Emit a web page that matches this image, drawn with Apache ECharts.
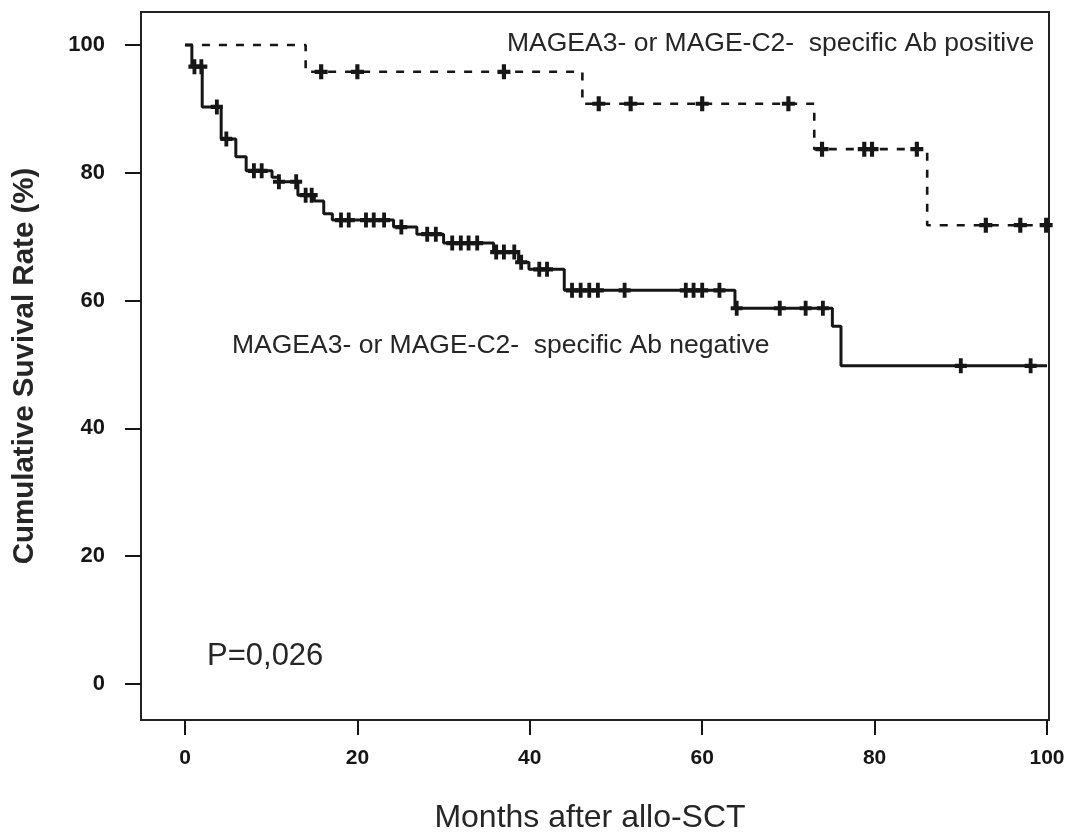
<!DOCTYPE html>
<html>
<head>
<meta charset="utf-8">
<script src="https://cdn.jsdelivr.net/npm/echarts@6/dist/echarts.min.js"></script>
<style>
html,body{margin:0;padding:0;background:#fff;}
#chart{width:1073px;height:834px;}
</style>
</head>
<body>
<div id="chart"></div>
<script>
// ---- data ----
const xTicks = [0, 20, 40, 60, 80, 100];
const yTicks = [0, 20, 40, 60, 80, 100];

// Ab positive group (dashed): event times (months) and survival after each event (%)
const posTimes = [14.0, 46.1, 73.0, 86.1];
const posSurv  = [95.8, 90.8, 83.7, 71.8];
const posCensor = [15.8, 20.0, 37.0, 48.0, 51.7, 60.0, 70.0, 73.9, 78.8, 79.7, 84.9, 92.9, 96.9, 99.9];

// Ab negative group (solid)
const negTimes = [0.8, 2.0, 4.2, 5.9, 7.1, 10.1, 10.9, 13.1, 15.0, 16.1, 17.1, 24.2, 26.9, 30.0, 35.8, 38.7, 39.9, 44.0, 63.8, 75.1, 76.1];
const negSurv  = [96.6, 90.3, 85.3, 82.5, 80.3, 79.3, 78.6, 76.5, 75.6, 73.6, 72.6, 71.5, 70.4, 69.0, 67.6, 66.0, 64.9, 61.6, 58.8, 56.0, 49.8];
const negCensor = [1.1, 1.9, 3.7, 4.8, 8.0, 8.9, 10.9, 12.9, 14.0, 14.7, 18.1, 19.0, 21.0, 21.9, 23.1, 25.1, 28.1, 29.1, 31.0, 32.0, 32.9, 33.9, 36.1, 37.0, 38.2, 39.0, 41.1, 42.0, 44.9, 45.9, 46.9, 47.9, 51.0, 58.1, 59.0, 60.0, 62.0, 64.0, 69.0, 72.0, 74.0, 90.0, 98.1];

const followUpEnd = 100;

const labelPos = 'MAGEA3- or MAGE-C2-  specific Ab positive';
const labelNeg = 'MAGEA3- or MAGE-C2-  specific Ab negative';
const pText = 'P=0,026';
const xName = 'Months after allo-SCT';
const yName = 'Cumulative Suvival Rate (%)';

// ---- build step curves ----
function curve(times, surv) {
  const pts = [[0, 100]];
  times.forEach((t, i) => pts.push([t, surv[i]]));
  pts.push([followUpEnd, surv[surv.length - 1]]);
  return pts;
}
function survAt(times, surv, t) {
  let s = 100;
  for (let i = 0; i < times.length; i++) if (times[i] <= t) s = surv[i];
  return s;
}
function censorPts(times, surv, cens) {
  return cens.map(t => [t, survAt(times, surv, t)]);
}

const ink = '#161616';
const plus = 'path://M3.4,0 L6.6,0 L6.6,3.6 L10,3.6 L10,6.4 L6.6,6.4 L6.6,10 L3.4,10 L3.4,6.4 L0,6.4 L0,3.6 L3.4,3.6 Z';
const FF = '"Liberation Sans", Arial, sans-serif';

const chart = echarts.init(document.getElementById('chart'), null, {renderer: 'canvas'});
chart.setOption({
  animation: false,
  backgroundColor: '#fff',
  grid: {
    left: 141, right: 24, top: 12, bottom: 114,
    show: true, borderColor: '#222', borderWidth: 2, backgroundColor: 'transparent'
  },
  xAxis: {
    type: 'value', min: -5.1, max: 100.23,
    axisLine: {show: false, onZero: false},
    splitLine: {show: false},
    axisTick: {show: true, customValues: xTicks, length: 15, lineStyle: {color: ink, width: 2}},
    axisLabel: {customValues: xTicks, margin: 28, fontFamily: FF, fontWeight: 'bold', fontSize: 21, color: ink}
  },
  yAxis: {
    type: 'value', min: -5.63, max: 105.16,
    axisLine: {show: false, onZero: false},
    splitLine: {show: false},
    axisTick: {show: true, customValues: yTicks, length: 16, lineStyle: {color: ink, width: 2}},
    axisLabel: {customValues: yTicks, margin: 36, fontFamily: FF, fontWeight: 'bold', fontSize: 22, color: ink}
  },
  series: [
    {
      type: 'line', step: 'end', data: curve(posTimes, posSurv), symbol: 'none',
      lineStyle: {color: ink, width: 2.6, type: [8, 9]}, z: 3
    },
    {
      type: 'line', step: 'end', data: curve(negTimes, negSurv), symbol: 'none',
      lineStyle: {color: ink, width: 3}, z: 3
    },
    {
      type: 'scatter', data: censorPts(posTimes, posSurv, posCensor), symbol: plus, symbolSize: [13, 15],
      itemStyle: {color: ink, opacity: 1}, z: 4, clip: false
    },
    {
      type: 'scatter', data: censorPts(negTimes, negSurv, negCensor), symbol: plus, symbolSize: [12, 15],
      itemStyle: {color: ink, opacity: 1}, z: 4
    }
  ],
  graphic: [
    {type: 'text', left: 507, top: 30, style: {text: labelPos, fontFamily: FF, fontSize: 26.5, fill: '#262626'}},
    {type: 'text', left: 232, top: 332, style: {text: labelNeg, fontFamily: FF, fontSize: 26.5, fill: '#262626'}},
    {type: 'text', left: 207, top: 641, style: {text: pText, fontFamily: FF, fontSize: 31, fill: '#262626'}},
    {type: 'text', x: 590, y: 818, style: {text: xName, fontFamily: FF, fontSize: 32, fill: '#262626', align: 'center', verticalAlign: 'middle'}},
    {type: 'text', x: 25, y: 366, rotation: Math.PI / 2, style: {text: yName, fontFamily: FF, fontWeight: 'bold', fontSize: 29.5, fill: '#262626', align: 'center', verticalAlign: 'middle'}}
  ]
});
</script>
</body>
</html>
